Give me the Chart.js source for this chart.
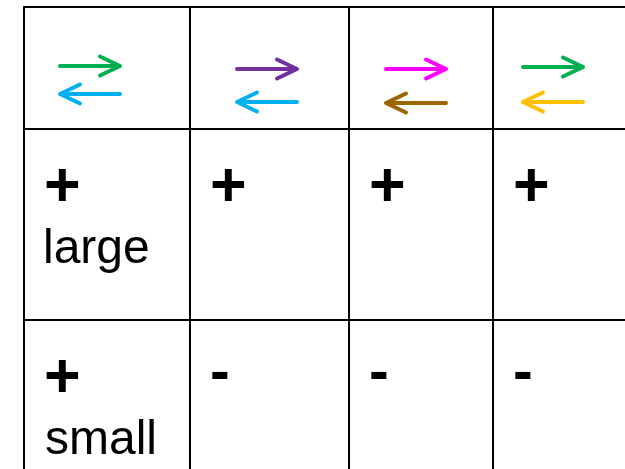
<!DOCTYPE html>
<html>
<head>
<meta charset="utf-8">
<script src="https://cdn.jsdelivr.net/npm/chart.js"></script>
<style>
  html, body { margin: 0; padding: 0; background: #fff; }
  #wrap { width: 625px; height: 469px; position: relative; }
</style>
</head>
<body>
<div id="wrap"><canvas id="chart"></canvas></div>
<script>
// --- table content ---
const forwardArrow = ['green', 'purple', 'magenta', 'green'];
const reverseArrow = ['blue', 'blue', 'brown', 'gold'];
const signRows = [
  ['+', '+', '+', '+'],
  ['+', '-', '-', '-']
];
const sizeLabels = ['large', 'small'];

// --- look & layout (kept apart from the content) ---
const palette = {
  green: '#00B050', blue: '#00B0F0', purple: '#7030A0',
  magenta: '#FF00FF', brown: '#9C6500', gold: '#FFC000'
};
const columnEdges = [24, 190, 349, 493];
const rowEdges = [7, 129, 320];
const arrowLeft = [36, 47, 37, 30];     // shaft start, from column edge
const arrowLen = 60;
const forwardY = [59, 62, 62, 60];      // from top edge
const reverseY = [87, 95, 96, 95];
const headDx = 20, headDy = 9.5;
const signInkWidth = {'+': 32, '-': 16};

function arrowPoints(x0, x1, y, dir) {
  // shaft then both barbs of the head, as one polyline
  if (dir > 0) {
    return [{x: x0, y}, {x: x1, y}, {x: x1 - headDx, y: y - headDy},
            {x: x1, y}, {x: x1 - headDx, y: y + headDy}];
  }
  return [{x: x1, y}, {x: x0, y}, {x: x0 + headDx, y: y - headDy},
          {x: x0, y}, {x: x0 + headDx, y: y + headDy}];
}

const datasets = [];
columnEdges.forEach((edge, i) => {
  const x0 = edge + arrowLeft[i], x1 = x0 + arrowLen;
  datasets.push({
    data: arrowPoints(x0, x1, rowEdges[0] + forwardY[i], 1),
    borderColor: palette[forwardArrow[i]]
  });
  datasets.push({
    data: arrowPoints(x0, x1, rowEdges[0] + reverseY[i], -1),
    borderColor: palette[reverseArrow[i]]
  });
});
datasets.forEach(d => Object.assign(d, {
  showLine: true, borderWidth: 4, pointRadius: 0,
  borderCapStyle: 'round', borderJoinStyle: 'round', tension: 0
}));

// cell text, placed through the scales
const cellText = {
  id: 'cellText',
  afterDatasetsDraw(chart) {
    const {ctx, scales: {x, y}} = chart;
    ctx.save();
    ctx.fillStyle = '#000';
    ctx.textAlign = 'left';
    ctx.textBaseline = 'alphabetic';
    signRows.forEach((row, r) => {
      const top = y.getPixelForValue(rowEdges[r + 1]);
      row.forEach((s, c) => {
        // size the glyph so its ink is as wide as in the original
        ctx.font = 'bold 100px "Liberation Sans", Arial, sans-serif';
        let m = ctx.measureText(s);
        const size = 100 * signInkWidth[s] / (m.actualBoundingBoxLeft + m.actualBoundingBoxRight);
        ctx.font = 'bold ' + size.toFixed(1) + 'px "Liberation Sans", Arial, sans-serif';
        m = ctx.measureText(s);
        const left = x.getPixelForValue(columnEdges[c]) + 22;
        const mid = top + 55;
        const px = left + m.actualBoundingBoxLeft;
        const py = mid + (m.actualBoundingBoxAscent - m.actualBoundingBoxDescent) / 2;
        ctx.fillText(s, px, py);
      });
      ctx.font = '48px "Liberation Sans", Arial, sans-serif';
      const lab = sizeLabels[r];
      const m = ctx.measureText(lab);
      ctx.fillText(lab, x.getPixelForValue(columnEdges[0]) + 22 + m.actualBoundingBoxLeft, top + 134);
    });
    ctx.restore();
  }
};

const whiteBg = {
  id: 'whiteBg',
  beforeDraw(chart) {
    const {ctx, width, height} = chart;
    ctx.save();
    ctx.fillStyle = '#fff';
    ctx.fillRect(0, 0, width, height);
    ctx.restore();
  }
};

const gridAxis = (min, max, edges, reverse) => ({
  type: 'linear', min, max, reverse,
  afterBuildTicks: s => { s.ticks = edges.map(v => ({value: v})); },
  ticks: {display: false},
  border: {display: false},
  grid: {color: '#000', lineWidth: 2, drawTicks: false}
});

new Chart(document.getElementById('chart'), {
  type: 'scatter',
  data: {datasets},
  options: {
    responsive: true,
    maintainAspectRatio: false,
    animation: false,
    devicePixelRatio: 1,
    layout: {padding: {left: 23, top: 6, right: 0, bottom: 0}},
    plugins: {legend: {display: false}, tooltip: {enabled: false}},
    scales: {
      x: gridAxis(23, 625, columnEdges, false),
      y: gridAxis(6, 469, rowEdges, true)
    }
  },
  plugins: [whiteBg, cellText]
});
</script>
</body>
</html>
